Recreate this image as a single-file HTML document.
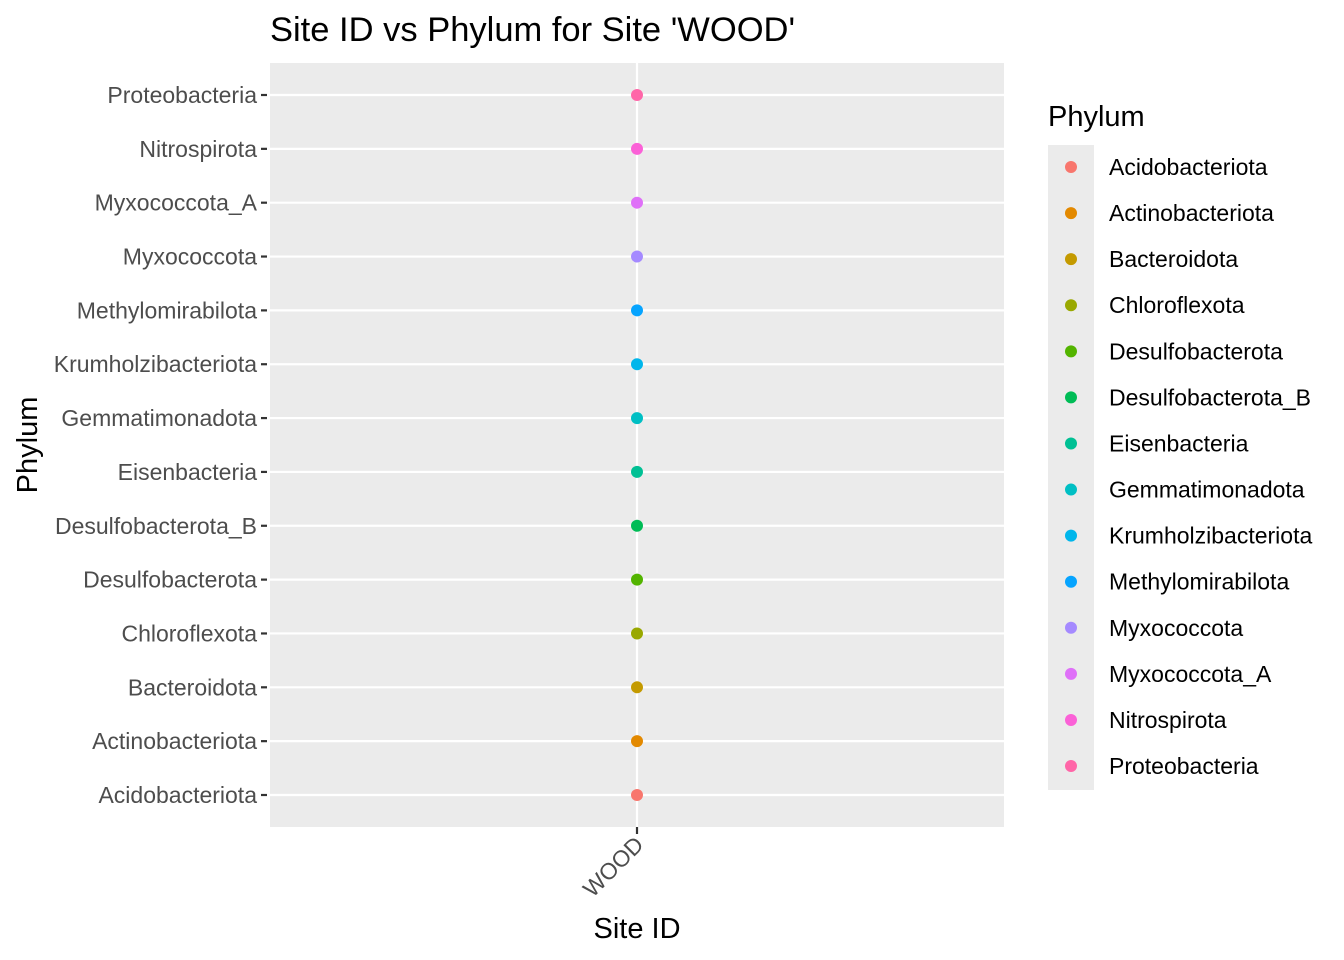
<!DOCTYPE html>
<html><head><meta charset="utf-8"><style>
body{margin:0;background:#fff;}
svg{display:block;font-family:"Liberation Sans",Arial,sans-serif;}
</style></head><body>
<svg id="chart" width="1344" height="960" viewBox="0 0 1344 960">
<text x="270" y="41" font-size="34.5" fill="#000">Site ID vs Phylum for Site 'WOOD'</text>
<rect x="270" y="63" width="734" height="764" fill="#EBEBEB"/>
<g id="grid"></g><g id="yaxis"></g><g id="xaxis"></g><g id="points"></g>
<text x="637" y="938" font-size="29" text-anchor="middle" fill="#000">Site ID</text>
<text transform="translate(37,445) rotate(-90)" font-size="29" text-anchor="middle" fill="#000">Phylum</text>
<text x="1048" y="126" font-size="29" fill="#000">Phylum</text>
<rect x="1048" y="145" width="46" height="645" fill="#EBEBEB"/>
<g id="legend"></g>
</svg>
<script>
const categories=["Acidobacteriota","Actinobacteriota","Bacteroidota","Chloroflexota","Desulfobacterota","Desulfobacterota_B","Eisenbacteria","Gemmatimonadota","Krumholzibacteriota","Methylomirabilota","Myxococcota","Myxococcota_A","Nitrospirota","Proteobacteria"];
const colors=["#F8766D","#E38900","#C49A00","#99A800","#53B400","#00BC56","#00C094","#00BFC4","#00B6EB","#06A4FF","#A58AFF","#DF70F8","#FB61D7","#FF66A8"];
const sites=["WOOD"];
const pointSite=["WOOD","WOOD","WOOD","WOOD","WOOD","WOOD","WOOD","WOOD","WOOD","WOOD","WOOD","WOOD","WOOD","WOOD"];
const pointPhylum=categories.slice();
const NS="http://www.w3.org/2000/svg";
function mk(t,a,p){const e=document.createElementNS(NS,t);for(const k in a)e.setAttribute(k,a[k]);document.getElementById(p).appendChild(e);return e;}
const y=c=>795-categories.indexOf(c)*(700/(categories.length-1));
const x=s=>270+734*(sites.indexOf(s)+0.5)/sites.length;
categories.forEach(c=>{
 let g=mk("line",{x1:270,x2:1004,y1:y(c),y2:y(c),stroke:"#fff","stroke-width":2.2},"grid");
 
 
 let t=mk("line",{x1:261,x2:267,y1:y(c),y2:y(c),stroke:"#333","stroke-width":2.2},"yaxis");
 
 
 let l=mk("text",{x:257,y:y(c)+8,"font-size":"23","text-anchor":"end",fill:"#4D4D4D"},"yaxis");
 l.textContent=c;
 
 
});
sites.forEach(s=>{
 let g=mk("line",{x1:x(s),x2:x(s),y1:63,y2:827,stroke:"#fff","stroke-width":2.2},"grid");
 
 
 let t=mk("line",{x1:x(s),x2:x(s),y1:827,y2:834,stroke:"#333","stroke-width":2.2},"xaxis");
 
 
 let l=mk("text",{transform:`translate(${x(s)+8},${846}) rotate(-45)`,"font-size":"23","text-anchor":"end",fill:"#4D4D4D"},"xaxis");
 l.textContent=s;
 
 
});
pointPhylum.forEach((p,i)=>{
 let c=mk("circle",{cx:x(pointSite[i]),cy:y(p),r:6,fill:colors[categories.indexOf(p)]},"points");
 
 
});
categories.forEach((c,i)=>{
 let k=mk("circle",{cx:1071,cy:167+i*46.08,r:6,fill:colors[i]},"legend");
 
 
 let t=mk("text",{x:1109,y:175+i*46.08,"font-size":"23",fill:"#000"},"legend");
 t.textContent=c;
 
 
});
</script>
</body></html>
